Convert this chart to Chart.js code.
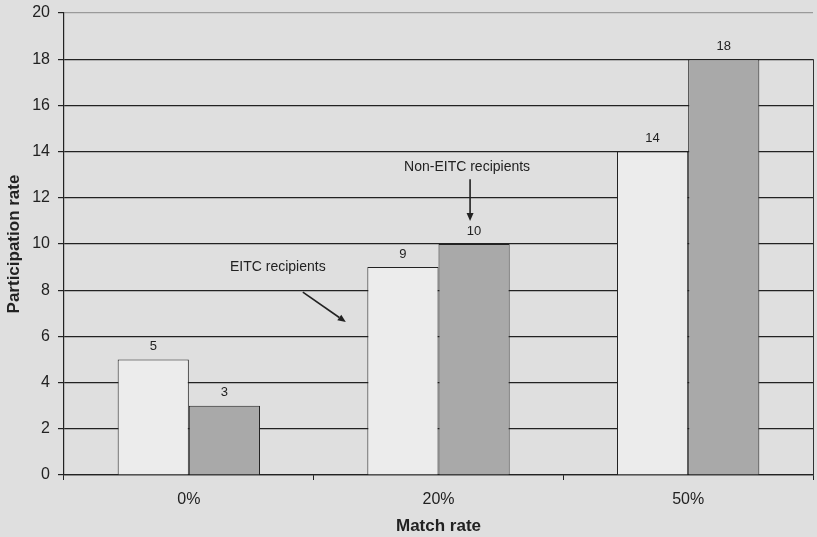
<!DOCTYPE html>
<html><head><meta charset="utf-8">
<script src="https://cdn.jsdelivr.net/npm/chart.js@4/dist/chart.umd.min.js"></script>
<style>html,body{margin:0;padding:0;background:#dfdfdf;}#wrap{width:817px;height:537px;}</style>
</head><body><div id="wrap"><canvas id="c" width="817" height="537"></canvas></div>
<script>
const categories = ['0%', '20%', '50%'];
const eitc = [5, 9, 14];
const nonEitc = [3, 10, 18];
const yTicks = [0, 2, 4, 6, 8, 10, 12, 14, 16, 18, 20];

const FONT = '"Liberation Sans", Arial, sans-serif';

const bgPlugin = {
  id: 'bg',
  beforeDraw(chart) {
    const c = chart.ctx;
    c.save(); c.fillStyle = '#dfdfdf'; c.fillRect(0, 0, chart.width, chart.height); c.restore();
  },
  afterDatasetsDraw(chart) {
    const c = chart.ctx, a = chart.chartArea;
    c.save();
    const xs = chart.scales.x, ys = chart.scales.y;
    // right border
    c.strokeStyle = '#333'; c.lineWidth = 1;
    c.beginPath(); c.moveTo(a.right + 0.5, ys.getPixelForValue(18)); c.lineTo(a.right + 0.5, a.bottom); c.stroke();
    // data labels
    c.fillStyle = '#222';
    c.font = '13px ' + FONT;
    c.textAlign = 'center'; c.textBaseline = 'middle';
    chart.data.datasets.forEach((ds, i) => {
      chart.getDatasetMeta(i).data.forEach((bar, j) => {
        c.fillText(String(ds.data[j]), bar.x, bar.y - 13);
      });
    });
    // annotations
    c.font = '14px ' + FONT;
    const nb = chart.getDatasetMeta(1).data[1];
    c.fillText('Non-EITC recipients', nb.x - 7, ys.getPixelForValue(13.33));
    drawArrow(c, nb.x - 4, ys.getPixelForValue(12.8), nb.x - 4, ys.getPixelForValue(11.0));
    const x0 = xs.getPixelForValue(0);
    c.fillText('EITC recipients', x0 + 89, ys.getPixelForValue(8.98));
    drawArrow(c, x0 + 114, ys.getPixelForValue(7.92), x0 + 157, ys.getPixelForValue(6.62));
    c.restore();
  }
};
function drawArrow(c, x1, y1, x2, y2) {
  c.save();
  c.strokeStyle = '#222'; c.fillStyle = '#222'; c.lineWidth = 1.6;
  const ang = Math.atan2(y2 - y1, x2 - x1);
  const hl = 8, hw = 3.5;
  const bx = x2 - hl * Math.cos(ang), by = y2 - hl * Math.sin(ang);
  c.beginPath(); c.moveTo(x1, y1); c.lineTo(bx, by); c.stroke();
  c.beginPath();
  c.moveTo(x2, y2);
  c.lineTo(bx + hw * Math.sin(ang), by - hw * Math.cos(ang));
  c.lineTo(bx - hw * Math.sin(ang), by + hw * Math.cos(ang));
  c.closePath(); c.fill();
  c.restore();
}

new Chart(document.getElementById('c'), {
  type: 'bar',
  data: {
    labels: categories,
    datasets: [
      { label: 'EITC recipients', data: eitc, backgroundColor: '#ececec', borderColor: '#222', borderWidth: 1, categoryPercentage: 0.57, barPercentage: 1.0 },
      { label: 'Non-EITC recipients', data: nonEitc, backgroundColor: '#a9a9a9', borderColor: '#222', borderWidth: 1, categoryPercentage: 0.57, barPercentage: 1.0 }
    ]
  },
  options: {
    responsive: false,
    animation: false,
    devicePixelRatio: 1,
    layout: { padding: { top: 13, right: 4, left: 0, bottom: 0 } },
    plugins: { legend: { display: false }, tooltip: { enabled: false } },
    scales: {
      x: {
        grid: { display: true, drawOnChartArea: false, drawTicks: true, tickLength: 5, color: '#222', offset: true },
        border: { display: true, color: '#222', width: 1.2 },
        ticks: { color: '#222', font: { family: FONT, size: 16 }, padding: 10 },
        title: { display: true, text: 'Match rate', color: '#222', font: { family: FONT, size: 17, weight: 'bold' }, padding: { top: 2, bottom: 0 } },
        afterFit(s) { s.height = 62; s.paddingLeft = 0; s.paddingRight = 0; }
      },
      y: {
        min: 0, max: 20,
        afterBuildTicks(s) { s.ticks = yTicks.map(v => ({ value: v })); },
        grid: {
          color: (ctx) => (ctx.tick && ctx.tick.value === 20) ? '#9a9a9a' : '#222',
          lineWidth: 1.2,
          tickLength: 6,
          tickColor: '#222'
        },
        border: { display: true, color: '#222', width: 1.2 },
        ticks: { color: '#222', font: { family: FONT, size: 16 }, padding: 8 },
        title: { display: true, text: 'Participation rate', color: '#222', font: { family: FONT, size: 17, weight: 'bold' }, padding: { top: 4, bottom: 4 } },
        afterFit(s) { s.width = 64; s.paddingTop = 0; s.paddingBottom = 0; }
      }
    }
  },
  plugins: [bgPlugin]
});
</script></body></html>
